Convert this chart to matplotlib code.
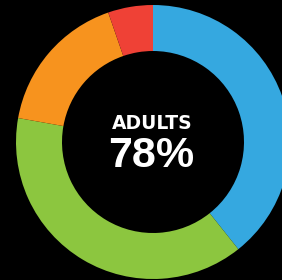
import matplotlib
matplotlib.use('Agg')
import matplotlib.pyplot as plt

# donut shares, clockwise from 12 o'clock
groups = ['Adults A', 'Adults B', 'Other', 'Small']
shares = [39.3, 38.5, 16.9, 5.3]
colors = ['#35a8e0', '#8cc63f', '#f7931e', '#ef4136']
label_top = 'ADULTS'
label_value = '78%'

fig = plt.figure(figsize=(2.82, 2.80), dpi=100, facecolor='black')
ax = fig.add_axes([0, 0, 1, 1])
ax.set_facecolor('black')

ax.pie(shares, colors=colors, startangle=90, counterclock=False,
       center=(153, 138), radius=137,
       wedgeprops=dict(width=46, linewidth=0))

# axes in pixel units so the ring can run off the edge like the original
ax.set_xlim(0, 282)
ax.set_ylim(0, 280)
ax.set_aspect('equal')
ax.axis('off')

ax.text(152, 151, label_top, color='white', fontsize=13.5, fontweight='bold',
        family='DejaVu Sans', ha='center', va='baseline')
ax.text(151, 113, label_value, color='white', fontsize=31, fontweight='bold',
        family='Liberation Sans', ha='center', va='baseline')

fig.savefig('out.png', dpi=100, facecolor='black')
